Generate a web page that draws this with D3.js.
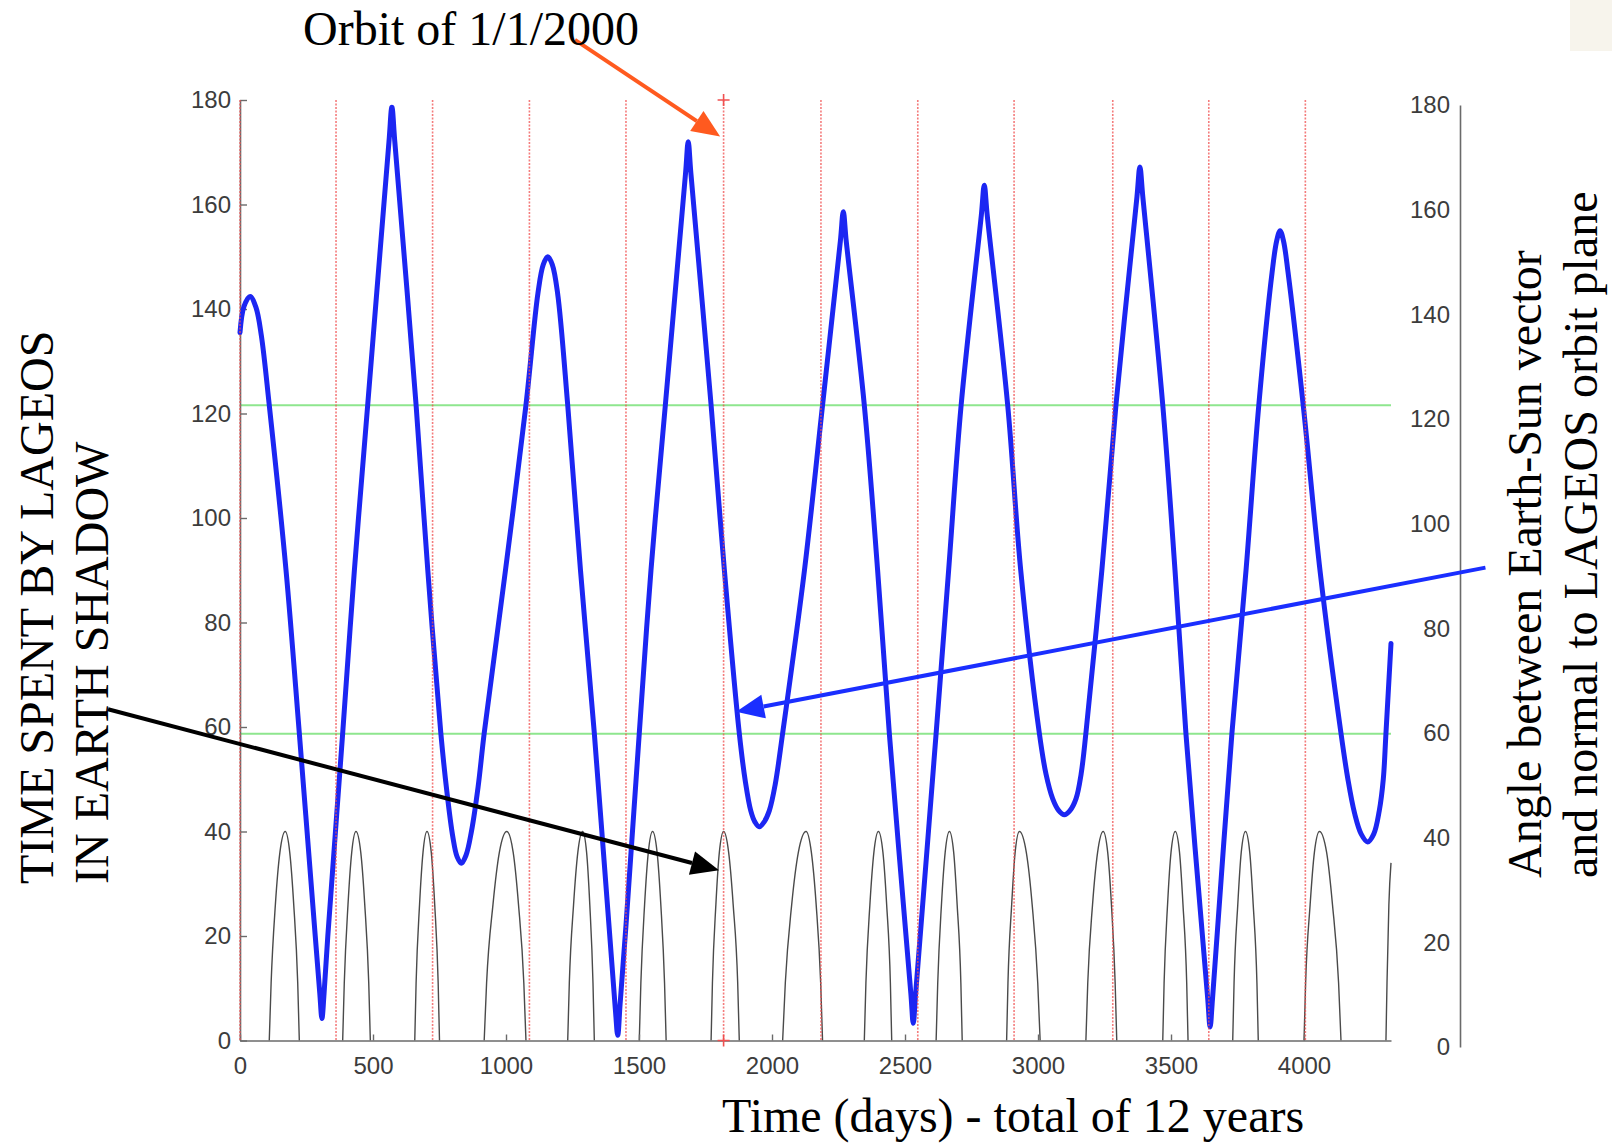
<!DOCTYPE html>
<html>
<head>
<meta charset="utf-8">
<script src="https://cdn.jsdelivr.net/npm/d3@7"></script>
<style>
	body { margin: 0; background: #fff; }
	svg { display: block; }
	.tick text { font-family: "Liberation Sans", Arial, Helvetica, sans-serif; font-size: 24px; fill: #3c3c3c; }
	.note { font-family: "Liberation Serif", "Times New Roman", serif; font-size: 48px; fill: #000; }
</style>
</head>
<body>
<div id="chart"></div>
<script>

// angle between Earth-Sun vector and normal to the orbit plane: [day, degrees]
var angle = [
	[0,135.5],[15,140.5],[38,142.4],[60,140.3],[80,135],[110,121.6],[173,90],[223,58.8],
	[283,19.9],[300,9],[308,4.2],[316,9],[330,19.9],[386,58.8],[430,90],[480,121.6],
	[560,172],[571,178.6],[582,172],[662,121.6],[706,90],[755,58.8],
	[778,47.5],[800,39],[816,35.2],[832,33.9],[850,35.5],[870,40],[895,48.5],[918,58.8],
	[998,90],[1075,121.6],[1120,143],[1140,148.5],[1157,150],[1174,148.5],[1194,143],[1232,121.6],
	[1280,90],[1332,58.8],[1411,6],[1420,1],[1429,7],[1451,22],[1501,58.8],[1545,90],[1599,121.6],
	[1675,166],[1685,172],[1695,166],[1771,121.6],[1821,90],[1877,58.8],
	[1900,49.5],[1920,44],[1936,41.8],[1952,40.9],[1970,41.8],[1990,44],[2012,49],[2040,58.8],
	[2122,90],[2190,121.6],[2257,153],[2268,158.6],[2279,153],[2347,121.6],[2397,90],[2441,58.8],
	[2522,9],[2531,3.3],[2540,9],[2617,58.8],[2664,90],[2711,121.6],
	[2787,158],[2798,163.7],[2809,158],[2886,121.6],[2935,90],[3005,58.8],
	[3030,51],[3055,46.3],[3078,44],[3099,43.2],[3120,44],[3143,46.3],[3162,51],[3180,58.8],
	[3240,90],[3293,121.6],[3372,161.5],[3383,167.2],[3394,161.5],[3469,121.6],[3515,90],[3556,58.8],
	[3638,8],[3647,2.6],[3656,8],[3729,58.8],[3782,90],[3830,121.6],
	[3880,147],[3897,153],[3910,155],[3923,153],[3940,147],[3997,121.6],[4060,90],[4139,58.8],
	[4165,50],[4190,43.5],[4215,39.5],[4239,38],[4262,39.5],[4283,44],[4298,50],[4308,58.8],[4327,76]
];

// time spent in Earth shadow (minutes), one list per eclipse season
var shadow = [
	[[110,0],[117,11],[133,26],[150,36],[170,40],[187,36],[202,26],[217,11],[223,0]],
	[[386,0],[392,11],[406,26],[420,36],[436,40],[454,36],[469,26],[484,11],[490,0]],
	[[657,0],[662,11],[675,26],[688,36],[703,40],[719,36],[732,26],[745,11],[750,0]],
	[[918,0],[927,11],[951,26],[975,36],[1003,40],[1027,36],[1047,26],[1067,11],[1075,0]],
	[[1232,0],[1238,11],[1254,26],[1270,36],[1288,40],[1303,36],[1315,26],[1327,11],[1332,0]],
	[[1501,0],[1507,11],[1521,26],[1535,36],[1551,40],[1568,36],[1582,26],[1596,11],[1602,0]],
	[[1771,0],[1776,11],[1789,26],[1802,36],[1818,40],[1837,36],[1854,26],[1871,11],[1877,0]],
	[[2040,0],[2050,11],[2074,26],[2099,36],[2128,40],[2148,36],[2166,26],[2183,11],[2190,0]],
	[[2347,0],[2353,11],[2368,26],[2383,36],[2400,40],[2417,36],[2431,26],[2445,11],[2450,0]],
	[[2617,0],[2623,11],[2637,26],[2651,36],[2667,40],[2683,36],[2696,26],[2710,11],[2715,0]],
	[[2882,0],[2887,11],[2901,26],[2914,36],[2930,40],[2956,36],[2978,26],[2999,11],[3008,0]],
	[[3180,0],[3187,11],[3205,26],[3224,36],[3245,40],[3262,36],[3276,26],[3290,11],[3296,0]],
	[[3469,0],[3474,11],[3487,26],[3500,36],[3516,40],[3532,36],[3545,26],[3559,11],[3564,0]],
	[[3732,0],[3737,11],[3751,26],[3764,36],[3780,40],[3796,36],[3809,26],[3823,11],[3828,0]],
	[[4000,0],[4006,11],[4023,26],[4039,36],[4058,40],[4085,36],[4107,26],[4130,11],[4139,0]],
	[[4308,0],[4312,11],[4319,26],[4327,34]]
];

var yearLines   = [0, 361, 724, 1088, 1451, 1818, 2184, 2548, 2910, 3281, 3642, 4005];
var orbitMarks  = [[1818, 180], [1818, 0]];
var shadowLimit = [58.7, 121.6];
var xTicks      = [0, 500, 1000, 1500, 2000, 2500, 3000, 3500, 4000];
var yTicks      = [0, 20, 40, 60, 80, 100, 120, 140, 160, 180];

var leftTitle  = ["TIME SPENT BY LAGEOS", "IN EARTH SHADOW"];
var rightTitle = ["Angle between Earth-Sun vector", "and normal to LAGEOS orbit plane"];
var topNote    = "Orbit of 1/1/2000";
var xTitle     = "Time (days) - total of 12 years";

// arrows in data units: from -> to
var arrows = [
	{ from: [1259, 191.5], to: [1805, 173.0], colour: '#ff5a1f' },
	{ from: [-496, 63.4],  to: [1801, 32.6],  colour: '#000000' },
	{ from: [4682, 90.5],  to: [1865, 62.9],  colour: '#1a2eff' }
];


var svg = d3.select('#chart')
	.append('svg')
	.attr('width', 1612)
	.attr('height', 1144);

svg.append('rect')
	.attr('width', 1612)
	.attr('height', 1144)
	.attr('fill', '#fff');

// faint patch in the top right corner of the slide
svg.append('rect')
	.attr('x', 1570)
	.attr('y', 0)
	.attr('width', 42)
	.attr('height', 51)
	.attr('fill', '#f7f4ec');

var x  = d3.scaleLinear().domain([0, 4327]).range([240, 1391]);
var y  = d3.scaleLinear().domain([0, 180]).range([1040.5, 100]);
var y2 = d3.scaleLinear().domain([0, 180]).range([1047, 105]);

// green eclipse limits
svg.append('g')
	.selectAll('line')
	.data(shadowLimit)
	.enter().append('line')
	.attr('x1', x(0))
	.attr('x2', x(4327))
	.attr('y1', function(d) { return y(d); })
	.attr('y2', function(d) { return y(d); })
	.attr('stroke', '#8ee68e')
	.attr('stroke-width', 2);

// shadow time
var shadowLine = d3.line()
	.x(function(d) { return x(d[0]); })
	.y(function(d) { return y(d[1]); })
	.curve(d3.curveMonotoneX);

svg.append('g')
	.selectAll('path')
	.data(shadow)
	.enter().append('path')
	.attr('d', shadowLine)
	.attr('fill', 'none')
	.attr('stroke', '#4a4a4a')
	.attr('stroke-width', 1.4);

// axes
var xAxis = svg.append('g')
	.attr('transform', 'translate(0,' + y(0) + ')')
	.call(d3.axisBottom(x).tickValues(xTicks).tickFormat(d3.format('d'))
		.tickSizeInner(-6).tickSizeOuter(0).tickPadding(16));

var yAxis = svg.append('g')
	.attr('transform', 'translate(' + x(0) + ',0)')
	.call(d3.axisLeft(y).tickValues(yTicks).tickFormat(d3.format('d'))
		.tickSizeInner(-7).tickSizeOuter(0).tickPadding(9));

var y2Axis = svg.append('g')
	.attr('transform', 'translate(1460,0)')
	.call(d3.axisLeft(y2).tickValues(yTicks).tickFormat(d3.format('d'))
		.tickSize(0).tickPadding(10));

[xAxis, yAxis, y2Axis].forEach(function(a) {
	a.select('.domain').attr('stroke', '#6a6a6a').attr('stroke-width', 1.6);
	a.selectAll('.tick line').attr('stroke', '#6a6a6a').attr('stroke-width', 1.4);
	a.selectAll('.tick text').attr('font-size', null).attr('font-family', null).attr('fill', null);
});

// angle curve
var angleLine = d3.line()
	.x(function(d) { return x(d[0]); })
	.y(function(d) { return y(d[1]); })
	.curve(d3.curveCatmullRom.alpha(0.5));

svg.append('path')
	.datum(angle)
	.attr('d', angleLine)
	.attr('fill', 'none')
	.attr('stroke', '#1c26f2')
	.attr('stroke-width', 5)
	.attr('stroke-linejoin', 'round')
	.attr('stroke-linecap', 'round');

// yearly red markers
svg.append('g')
	.selectAll('line')
	.data(yearLines)
	.enter().append('line')
	.attr('x1', function(d) { return x(d); })
	.attr('x2', function(d) { return x(d); })
	.attr('y1', y(180))
	.attr('y2', y(0))
	.attr('stroke', '#f05050')
	.attr('stroke-opacity', 0.75)
	.attr('stroke-width', 1.6)
	.attr('stroke-dasharray', '2,1.5');

svg.append('g')
	.selectAll('path')
	.data(orbitMarks)
	.enter().append('path')
	.attr('transform', function(d) { return 'translate(' + x(d[0]) + ',' + y(d[1]) + ')'; })
	.attr('d', 'M-6,0H6M0,-6V6')
	.attr('stroke', '#f05050')
	.attr('stroke-width', 1.6);

// arrows
function drawArrow(a) {
	var x1 = x(a.from[0]), y1 = y(a.from[1]);
	var x2 = x(a.to[0]),   y2p = y(a.to[1]);
	var dx = x2 - x1, dy = y2p - y1;
	var len = Math.sqrt(dx*dx + dy*dy);
	var ux = dx / len, uy = dy / len;
	var bx = x2 - ux * 28, by = y2p - uy * 28;

	svg.append('line')
		.attr('x1', x1).attr('y1', y1)
		.attr('x2', bx).attr('y2', by)
		.attr('stroke', a.colour)
		.attr('stroke-width', 4);

	svg.append('polygon')
		.attr('points', [[x2, y2p], [bx - uy*12, by + ux*12], [bx + uy*12, by - ux*12]].join(' '))
		.attr('fill', a.colour);
}
arrows.forEach(drawArrow);

// texts
svg.append('text')
	.attr('class', 'note')
	.attr('x', 303)
	.attr('y', 45)
	.text(topNote);

svg.append('text')
	.attr('class', 'note')
	.attr('x', 722)
	.attr('y', 1132)
	.text(xTitle);

svg.selectAll('.left-title')
	.data(leftTitle)
	.enter().append('text')
	.attr('class', 'note left-title')
	.attr('transform', function(d, i) { return 'translate(' + (53 + i*55) + ',884) rotate(-90)'; })
	.text(function(d) { return d; });

svg.selectAll('.right-title')
	.data(rightTitle)
	.enter().append('text')
	.attr('class', 'note right-title')
	.attr('transform', function(d, i) { return 'translate(' + (1541 + i*56) + ',878) rotate(-90)'; })
	.text(function(d) { return d; });

</script>
</body>
</html>
